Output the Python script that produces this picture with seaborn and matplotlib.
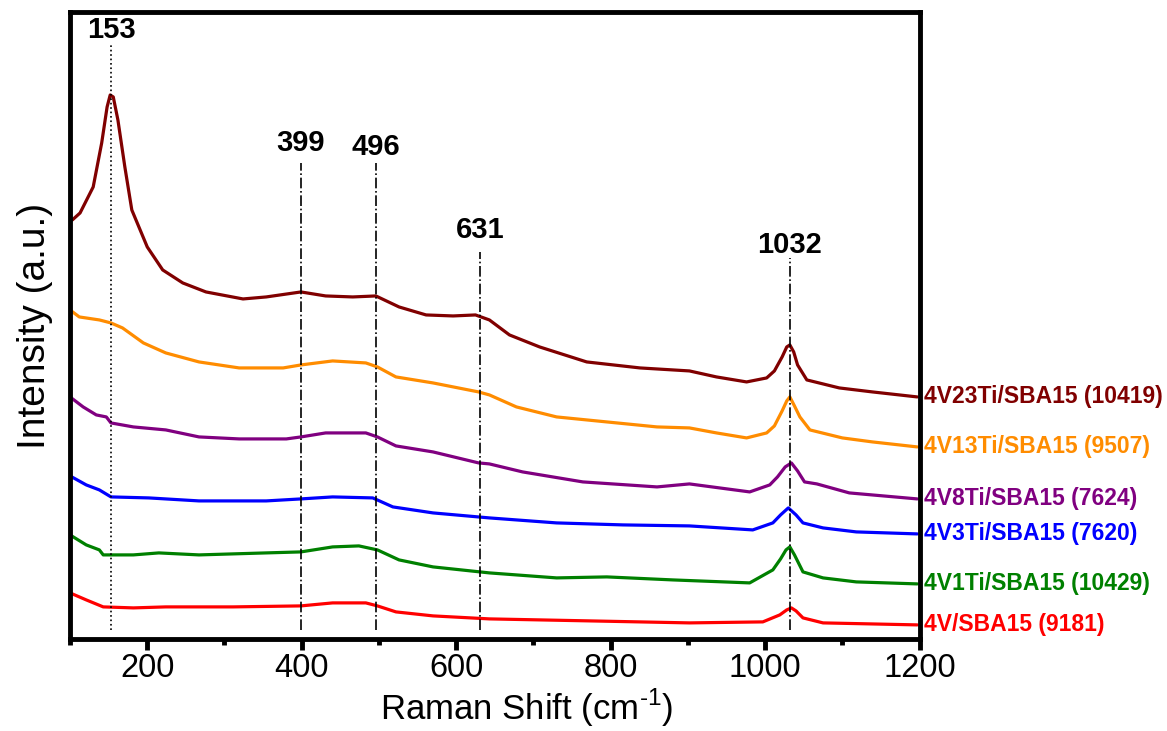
import matplotlib
matplotlib.use("Agg")
import matplotlib.pyplot as plt
import seaborn as sns
import pandas as pd
from matplotlib.ticker import MultipleLocator

# ---- data (intensity in arbitrary units) ----
x_23 = [100, 103, 113, 130, 141, 148, 152, 156, 162, 171, 180, 200, 220, 246, 276, 324, 354, 399, 431, 466, 496, 526, 561,
        596, 625, 643, 669, 708, 769, 838, 902, 937, 976, 1002, 1012, 1022, 1028, 1032, 1037, 1042, 1054, 1096, 1139, 1197]
y_23 = [419, 419, 426, 452, 496, 532, 544, 542, 519, 472, 429, 392, 369, 356, 347, 340, 342, 347, 343, 342, 343, 332, 324,
        323, 324, 319, 304, 292, 277, 271, 268, 262, 257, 261, 268, 282, 292, 294, 287, 274, 259, 251, 247, 242]

x_13 = [100, 112, 138, 153, 168, 195, 224, 267, 319, 376, 399, 440, 483, 498, 522, 570, 629, 643, 678, 730, 795, 860, 902,
        937, 976, 1002, 1012, 1022, 1028, 1032, 1038, 1045, 1058, 1100, 1139, 1197]
y_13 = [329, 322, 319, 316, 311, 296, 286, 277, 271, 271, 274, 278, 276, 272, 262, 256, 247, 244, 232, 222, 217, 212, 211,
        206, 201, 206, 213, 228, 238, 242, 233, 222, 209, 201, 197, 192]

x_8 = [100, 117, 134, 147, 153, 182, 224, 267, 319, 380, 399, 431, 483, 498, 522, 570, 629, 643, 686, 764, 860, 902, 980,
       1006, 1016, 1026, 1034, 1042, 1051, 1067, 1109, 1197]
y_8 = [242, 232, 224, 222, 216, 212, 209, 202, 200, 200, 202, 206, 206, 202, 193, 187, 176, 175, 167, 157, 152, 155, 147,
       154, 162, 172, 176, 168, 157, 155, 146, 140]

x_3 = [100, 121, 138, 153, 202, 267, 354, 399, 440, 492, 518, 570, 643, 730, 816, 902, 984, 1010, 1020, 1030, 1040, 1049,
       1075, 1118, 1197]
y_3 = [163, 154, 149, 142, 141, 138, 138, 140, 142, 141, 132, 126, 121, 116, 114, 113, 109, 116, 124, 131, 124, 116,
       111, 107, 105]

x_1 = [100, 121, 138, 143, 182, 215, 267, 354, 399, 440, 474, 498, 526, 570, 643, 730, 795, 880, 980, 1010, 1020, 1027,
       1032, 1038, 1049, 1075, 1118, 1197]
y_1 = [104, 94, 89, 84, 84, 86, 84, 86, 87, 92, 93, 89, 79, 72, 66, 61, 62, 59, 56, 69, 80, 89, 92, 84, 67, 61, 57, 55]

x_0 = [100, 121, 143, 182, 224, 311, 399, 440, 483, 498, 522, 570, 643, 773, 902, 997, 1019, 1028, 1034, 1040, 1049,
       1075, 1197]
y_0 = [46, 39, 32, 31, 32, 32, 33, 36, 36, 33, 27, 23, 20, 18, 16, 17, 24, 29, 31, 28, 21, 16, 14]

series_names = ["4V23Ti/SBA15 (10419)", "4V13Ti/SBA15 (9507)", "4V8Ti/SBA15 (7624)",
                "4V3Ti/SBA15 (7620)", "4V1Ti/SBA15 (10429)", "4V/SBA15 (9181)"]
series_x = [x_23, x_13, x_8, x_3, x_1, x_0]
series_y = [y_23, y_13, y_8, y_3, y_1, y_0]
colors = ["#800000", "#FF8C00", "#800080", "#0000FF", "#008000", "#FF0000"]

peaks = [153, 399, 496, 631, 1032]
peak_label_y = [609, 496, 492, 409, 394]
peak_line_top = [596, 476, 476, 387, 381]
peak_styles = [":", "-.", "-.", "-.", "-."]

x_ticks = [200, 400, 600, 800, 1000, 1200]

# ---- plotting ----
sns.set_style("white")
plt.rcParams["font.family"] = ["Liberation Sans", "DejaVu Sans"]
plt.rcParams["mathtext.fontset"] = "custom"
plt.rcParams["mathtext.rm"] = "Liberation Sans"
plt.rcParams["text.color"] = "black"
plt.rcParams["axes.labelcolor"] = "black"
plt.rcParams["xtick.color"] = "black"

fig = plt.figure(figsize=(11.67, 7.31), dpi=100)
ax = fig.add_axes([0.060, 0.126, 0.728, 0.8576])

for name, xs, ys, c in zip(series_names, series_x, series_y, colors):
    df = pd.DataFrame({"x": xs, "y": ys})
    sns.lineplot(data=df, x="x", y="y", color=c, linewidth=2.3, ax=ax, legend=False)
    ax.text(1206, ys[-1], name, color=c, fontsize=16.5, fontweight="bold",
            va="center", ha="left", clip_on=False)

for p, ly, lt, ls in zip(peaks, peak_label_y, peak_line_top, peak_styles):
    ax.plot([p, p], [9, lt], color="black", linestyle=ls, linewidth=1.2)
    ax.text(p, ly, str(p), fontsize=21, fontweight="bold", ha="center", va="center", color="black")

ax.set_xlim(100, 1200)
ax.set_ylim(0, 627)
ax.set_xticks(x_ticks)
ax.xaxis.set_minor_locator(MultipleLocator(100))
ax.set_yticks([])
ax.tick_params(axis="x", which="major", direction="out", length=8, width=3.5,
               labelsize=23.5, pad=2.5, bottom=True, colors="black")
ax.tick_params(axis="x", which="minor", direction="out", length=4.5, width=3.5, bottom=True)
for s in ax.spines.values():
    s.set_linewidth(3.5)
    s.set_color("black")

ax.set_xlabel("Raman Shift (cm$^{\\text{-1}}$)", fontsize=25)
ax.xaxis.set_label_coords(0.538, -0.076)
ax.set_ylabel("Intensity (a.u.)", fontsize=28, labelpad=12)

fig.savefig("out.png", dpi=100)
